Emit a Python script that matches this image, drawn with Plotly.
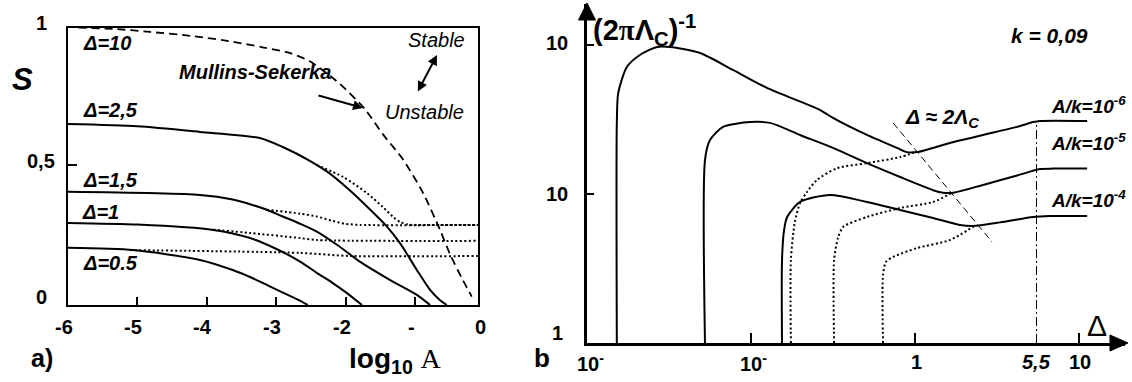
import numpy as np
import plotly.graph_objects as go

W, H = 1132, 382
SANS = "Arial, 'Liberation Sans', sans-serif"

# ---------------- panel a): S versus log10 A ----------------
ms_log_a = [-5.85, -5.3, -4.82, -4.2, -3.63, -3.2, -2.81, -2.52, -2.09, -1.73,
            -1.47, -1.18, -0.89, -0.65, -0.50, -0.32, -0.19]
ms_s = [0.99, 0.985, 0.975, 0.96, 0.94, 0.92, 0.90, 0.87, 0.79, 0.70,
        0.61, 0.52, 0.40, 0.27, 0.18, 0.09, 0.03]

d25_log_a = [-6, -5, -4.1, -3.24, -2.91, -2.52, -2.27, -1.97, -1.65, -1.41,
             -1.22, -0.98, -0.79, -0.65, -0.55]
d25_s = [0.646, 0.638, 0.618, 0.596, 0.564, 0.515, 0.476, 0.415, 0.34, 0.28,
         0.22, 0.125, 0.054, 0.018, 0.0]
d25_dot_log_a = [-2.42, -2.04, -1.70, -1.47, -1.32, -1.22, -1.12, -1.05, -0.1]
d25_dot_s = [0.50, 0.457, 0.40, 0.35, 0.314, 0.296, 0.288, 0.286, 0.286]

d15_log_a = [-6, -4.1, -3.63, -3.38, -3.14, -2.91, -2.66, -2.42, -2.13, -1.8,
             -1.37, -0.98, -0.79]
d15_s = [0.404, 0.393, 0.377, 0.36, 0.34, 0.316, 0.29, 0.262, 0.215, 0.155,
         0.09, 0.036, 0.0]
d15_dot_log_a = [-3.14, -2.66, -2.42, -2.19, -2.01, -1.8, -0.1]
d15_dot_s = [0.34, 0.326, 0.316, 0.30, 0.29, 0.286, 0.286]

d1_log_a = [-6, -5, -3.91, -3.38, -3.0, -2.66, -2.42, -2.2, -2.0, -1.77]
d1_s = [0.293, 0.287, 0.268, 0.239, 0.20, 0.155, 0.115, 0.08, 0.045, 0.0]
d1_dot_log_a = [-3.91, -3.38, -2.66, -2.42, -0.1]
d1_dot_s = [0.269, 0.257, 0.239, 0.232, 0.229]

d05_log_a = [-6, -5.06, -4.1, -3.63, -3.38, -3.14, -2.9, -2.7, -2.55]
d05_s = [0.204, 0.196, 0.161, 0.125, 0.10, 0.072, 0.043, 0.02, 0.0]
d05_dot_log_a = [-5.11, -2.66, -1.94, -0.1]
d05_dot_s = [0.196, 0.186, 0.175, 0.175]

a_xtick_vals = [-6, -5, -4, -3, -2, -1, 0]
a_xtick_text = ["-6", "-5", "-4", "-3", "-2", "-", "0"]
a_ytick_vals = [1, 0.5, 0]
a_ytick_text = ["1", "0,5", "0"]

# ---------------- panel b): (2*pi*Lambda_c)^-1 versus Delta ----------------
c6_delta = [0.0152, 0.0152, 0.0155, 0.0175, 0.021, 0.0267, 0.0321, 0.0489, 0.0776,
            0.125, 0.264, 0.316, 0.509, 0.776, 0.893, 1.03, 1.63, 2.60, 4.19,
            5.25, 5.78, 11.2]
c6_val = [1, 30, 47.6, 71.2, 85.7, 97, 97, 88.3, 68, 51.5, 36.6, 32.4, 24.9,
          20.4, 19.1, 19.1, 22, 24.9, 28.2, 30.4, 30.9, 30.9]

c5_delta = [0.0524, 0.0524, 0.0562, 0.0675, 0.0986, 0.1306, 0.199, 0.316, 0.509,
            0.811, 1.29, 1.48, 1.71, 2.60, 4.19, 5.78, 6.94, 11.2]
c5_val = [1, 16.9, 23.0, 28.2, 30.4, 30.0, 24.9, 20.4, 16.1, 13.0, 10.6, 10.2,
          10.2, 11.5, 13.3, 14.7, 14.8, 14.8]

c4_delta = [0.1545, 0.1545, 0.159, 0.166, 0.199, 0.303, 0.509, 0.811, 1.29, 1.88,
            2.26, 3.30, 5.25, 6.65, 11.2]
c4_val = [1, 3.61, 5.73, 7.01, 8.84, 9.85, 8.84, 7.81, 6.90, 6.19, 6.10, 6.45,
          7.01, 7.11, 7.11]

c6_dot_delta = [0.175, 0.175, 0.185, 0.199, 0.219, 0.252, 0.334, 0.509, 0.811, 1.0]
c6_dot_val = [1, 3.61, 6.49, 8.7, 10.3, 12.4, 14.9, 16.1, 17.7, 19.1]

c5_dot_delta = [0.321, 0.321, 0.339, 0.364, 0.509, 0.811, 1.29, 1.68]
c5_dot_val = [1, 3.61, 5.07, 6.01, 7.01, 8.05, 8.84, 10.2]

c4_dot_delta = [0.638, 0.638, 0.665, 0.735, 1.03, 1.63, 2.30]
c4_dot_val = [1, 2.86, 3.50, 3.78, 4.34, 4.91, 6.10]

crit_delta = [0.735, 2.95]
crit_val = [30, 4.76]

delta_mark = 5.5
delta_mark_val = [1, 30]

b_xtick_vals = [0.01, 0.1, 1, 5.5, 10]
b_xtick_text = ["10<sup>-</sup>", "10<sup>-</sup>", "1", "<i>5,5</i>", "10"]
b_ytick_vals = [100, 10, 1]
b_ytick_text = ["10", "10", "1"]


def pp(x, y):
    """pixel position -> paper coordinates"""
    return x / W, 1 - y / H


fig = go.Figure()


def add_line(x, y, axes, width=2, dash="solid", smooth=True):
    line = dict(color="black", width=width, dash=dash)
    if smooth:
        line.update(shape="spline", smoothing=0.7)
    fig.add_trace(go.Scatter(x=x, y=y, mode="lines", line=line,
                             xaxis=axes[0], yaxis=axes[1],
                             hoverinfo="skip", showlegend=False))


A = ("x", "y")
B = ("x2", "y2")
DOT = "2px,2.5px"

add_line(ms_log_a, ms_s, A, width=1.8, dash="8px,5px")
add_line(d25_dot_log_a, d25_dot_s, A, dash=DOT)
add_line(d15_dot_log_a, d15_dot_s, A, dash=DOT)
add_line(d1_dot_log_a, d1_dot_s, A, dash=DOT)
add_line(d05_dot_log_a, d05_dot_s, A, dash=DOT)
add_line(d25_log_a, d25_s, A)
add_line(d15_log_a, d15_s, A)
add_line(d1_log_a, d1_s, A)
add_line(d05_log_a, d05_s, A)

add_line(c6_dot_delta, c6_dot_val, B, dash=DOT)
add_line(c5_dot_delta, c5_dot_val, B, dash=DOT)
add_line(c4_dot_delta, c4_dot_val, B, dash=DOT)
add_line(c6_delta, c6_val, B)
add_line(c5_delta, c5_val, B)
add_line(c4_delta, c4_val, B)
add_line(crit_delta, crit_val, B, width=1, dash="7px,4px", smooth=False)
add_line([delta_mark, delta_mark], delta_mark_val, B, width=1,
         dash="9px,3px,2px,3px", smooth=False)

common = dict(showline=True, linecolor="black", showgrid=False, zeroline=False,
              ticks="inside", tickcolor="black", showticklabels=False)

# panel a: x from -6 (px 68) to -0.1 (px 478); y from 0 (px 305) to 0.989 (px 28)
A_X0, A_X1, A_Y0, A_Y1 = 68, 478, 305, 28
fig.update_layout(
    width=W, height=H, margin=dict(l=0, r=0, t=0, b=0),
    paper_bgcolor="white", plot_bgcolor="white", showlegend=False,
    xaxis=dict(domain=[A_X0 / W, A_X1 / W], range=[-6, -0.1], mirror=True,
               linewidth=2, ticklen=8, tickwidth=1.5, tickvals=[-5, -4, -3, -2, -1],
               anchor="y", **common),
    yaxis=dict(domain=[1 - A_Y0 / H, 1 - A_Y1 / H], range=[0, 0.989], mirror=True,
               linewidth=2, ticklen=9, tickwidth=1.5, tickvals=[0.5],
               anchor="x", **common),
    xaxis2=dict(type="log", domain=[587 / W, 1125 / W], range=[-2, 1.28],
                linewidth=2.5, ticklen=10, tickwidth=1.5, tickvals=[0.1, 1, 10],
                anchor="y2", **common),
    yaxis2=dict(type="log", domain=[1 - 343 / H, 1 - 4 / H], range=[0, 2.275],
                linewidth=2.5, ticklen=7, tickwidth=1.5, tickvals=[10, 100],
                anchor="x2", **common),
)


def a_px(v):
    return A_X0 + (v + 6) / 5.9 * (A_X1 - A_X0)


def a_py(v):
    return A_Y0 - v / 0.989 * (A_Y0 - A_Y1)


# arrowheads on the axes of panel b
def tri(p1, p2, p3):
    pts = [pp(*p) for p in (p1, p2, p3)]
    path = "M {} {} L {} {} L {} {} Z".format(*[c for p in pts for c in p])
    return dict(type="path", path=path, xref="paper", yref="paper",
                fillcolor="black", line=dict(color="black", width=1))


fig.add_shape(**tri((587, 3), (578.5, 20), (595.5, 20)))
fig.add_shape(**tri((1128, 343), (1110, 335), (1110, 351)))

ann = []


def text(t, x, y, size, bold=True, italic=False, family=SANS, xanchor="center"):
    if bold:
        t = "<b>" + t + "</b>"
    if italic:
        t = "<i>" + t + "</i>"
    fx, fy = pp(x, y)
    ann.append(dict(text=t, x=fx, y=fy, xref="paper", yref="paper", showarrow=False,
                    xanchor=xanchor, yanchor="middle",
                    font=dict(family=family, size=size, color="black")))


TICK = 20
# panel a tick labels
for v, t in zip(a_xtick_vals, a_xtick_text):
    text(t, a_px(v) - 4, 327, TICK)
for v, t, ys in zip(a_ytick_vals, a_ytick_text, [2, 4, 8]):
    text(t, 41, a_py(v) - ys, TICK)

# panel b tick labels
for v, t, dx in zip(b_xtick_vals, b_xtick_text, [3, 2, 1, 0, 1]):
    ann.append(dict(text="<b>" + t + "</b>", x=float(np.log10(v)), xref="x2",
                    y=pp(0, 362)[1], yref="paper", xshift=dx, showarrow=False,
                    xanchor="center", yanchor="middle",
                    font=dict(family=SANS, size=TICK, color="black")))
for v, t, ys in zip(b_ytick_vals, b_ytick_text, [2, 0, 10]):
    ann.append(dict(text="<b>" + t + "</b>", x=pp(557, 0)[0], xref="paper",
                    y=float(np.log10(v)), yref="y2", yshift=ys, showarrow=False,
                    xanchor="center", yanchor="middle",
                    font=dict(family=SANS, size=TICK, color="black")))

# panel a labels
text("S", 22, 79, 31, italic=True)
text("a)", 42, 358, 25)
text("log<sub>10</sub> <span style='font-family:Liberation Serif;font-weight:normal'>A</span>",
     395, 360, 28)
text("Δ=10", 107, 43, 20, italic=True)
text("Δ=2,5", 110, 110, 20, italic=True)
text("Δ=1,5", 110, 180, 20, italic=True)
text("Δ=1", 100, 212, 20, italic=True)
text("Δ=0.5", 110, 263, 20, italic=True)
text("Mullins-Sekerka", 255, 72, 20, italic=True)
text("Stable", 436, 40, 20, bold=False, italic=True)
text("Unstable", 424, 112, 20, bold=False, italic=True)

# arrows in panel a
tip = pp(363, 108)
ann.append(dict(x=tip[0], y=tip[1], xref="paper", yref="paper", ax=-46, ay=-13,
                text="", showarrow=True, arrowhead=2, arrowsize=1, arrowwidth=2,
                arrowcolor="black"))
tip = pp(437, 55)
ann.append(dict(x=tip[0], y=tip[1], xref="paper", yref="paper", ax=-20, ay=38,
                text="", showarrow=True, arrowhead=2, startarrowhead=2, arrowside="end+start",
                arrowsize=1, startarrowsize=1, arrowwidth=2, arrowcolor="black"))

# panel b labels
text("(2<span style='font-family:Liberation Serif'>π</span>Λ<sub>C</sub>)<sup>-1</sup>",
     644, 30, 29)
text("k = 0,09", 1049, 35, 21, italic=True)
text("Δ ≈ 2Λ<sub>C</sub>", 942, 118, 21, italic=True)
text("A/k=10<sup>-6</sup>", 1088, 105, 19, italic=True)
text("A/k=10<sup>-5</sup>", 1088, 142, 19, italic=True)
text("A/k=10<sup>-4</sup>", 1088, 199, 19, italic=True)
text("Δ", 1097, 325, 30, bold=False)
text("b", 542, 358, 26)

fig.update_layout(annotations=ann)
fig.write_html("out.html")
